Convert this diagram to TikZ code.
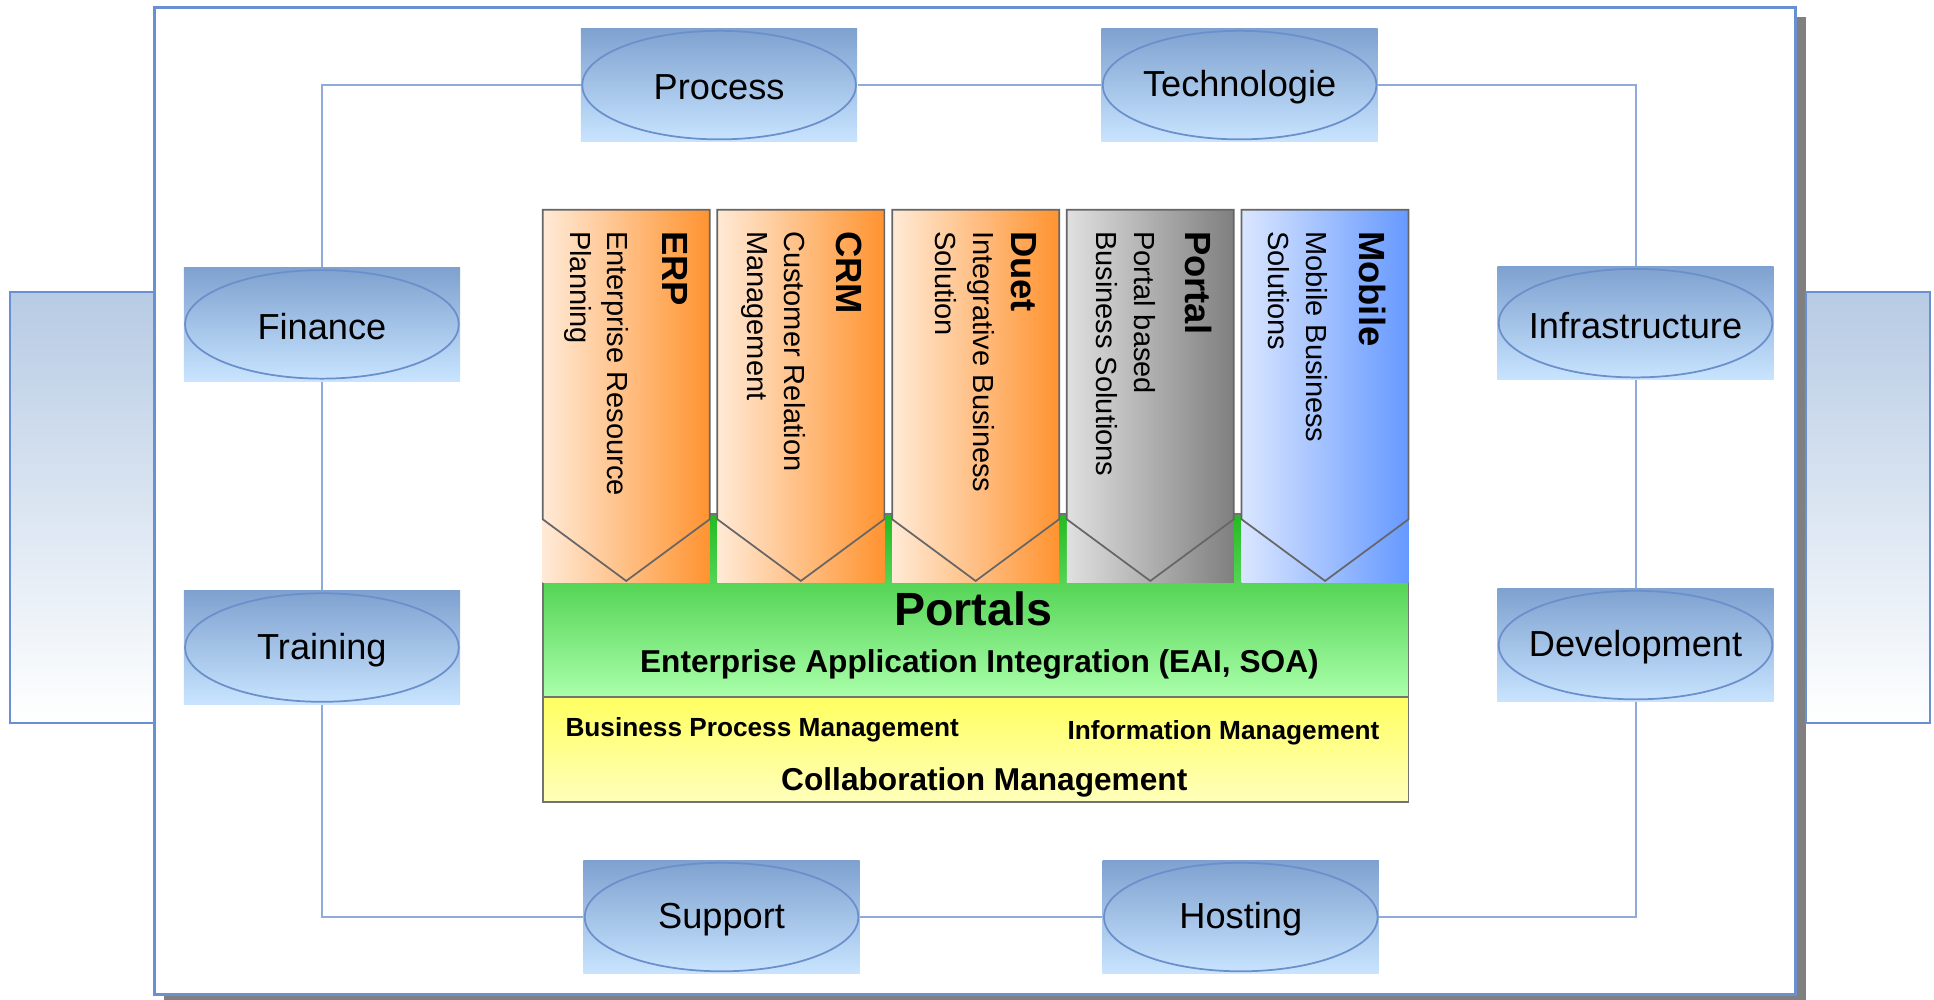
\documentclass[tikz,border=0pt]{standalone}
\usepackage{fontspec}
\setmainfont{Liberation Sans}
\usetikzlibrary{positioning,shapes.geometric}

\definecolor{topicdark}{HTML}{7EA1CF}
\definecolor{topiclight}{HTML}{C8E4FF}
\definecolor{topicline}{HTML}{6A8FCB}
\definecolor{linkline}{HTML}{8EABD9}
\definecolor{framecol}{HTML}{6A90D4}
\definecolor{sidetop}{HTML}{B7CBE4}
\definecolor{peach}{HTML}{FFEAD6}
\definecolor{orangeR}{HTML}{FF9330}
\definecolor{greyL}{HTML}{E0E0E0}
\definecolor{greyR}{HTML}{7F7F7F}
\definecolor{blueL}{HTML}{DAE6FF}
\definecolor{blueR}{HTML}{6699FF}
\definecolor{greenT}{HTML}{22BB22}
\definecolor{greenB}{HTML}{AAFFAA}
\definecolor{yellowT}{HTML}{FFFF60}
\definecolor{yellowB}{HTML}{FFFFBB}

\newcommand\topicfont{\fontsize{16.7}{20}\selectfont}
\newcommand\headfont{\fontsize{16.8}{20}\selectfont\bfseries}
\newcommand\bodyfont{\fontsize{13.4}{17.3}\selectfont}

\newcommand\topic[3]{%
\node[topicbg] (#1bg) at (#2) {};
\node[topic,label={[topictext]center:#3}] (#1) at (#2) {};
}
\newcommand\pillar[7]{%
\shade[left color=#3, right color=#4] (#2,\colTop) rectangle ++(\colW,\colH);
\draw[pillarline] (#2,\colTop) -- ++(\colW,0) -- ++(0,\colSh) -- ++(-\colW/2,\colTip) -- ++(-\colW/2,-\colTip) -- cycle;
\node[colhead] (#1) at (#2+117.6,187) {#5};
\node[colbody] (#1txt) at (#2+#7,187) {#6};
}

\begin{document}
\begin{tikzpicture}[x=0.02cm,y=-0.02cm,
	topicbg/.style={rectangle,inner sep=0,minimum width=4.48cm,minimum height=1.84cm,top color=topicdark,bottom color=topiclight},
	topic/.style={ellipse,draw=topicline,line width=0.8pt,inner sep=0,minimum width=4.44cm,minimum height=1.76cm},
	topictext/.style={font=\topicfont,inner sep=0,yshift=-1pt},
	link/.style={draw=linkline,line width=0.9pt},
	pillarline/.style={draw=black!60,line width=0.8pt},
	colhead/.style={rotate=-90,anchor=north west,inner sep=0,font=\headfont},
	colbody/.style={rotate=-90,anchor=north west,inner sep=0,align=left,font=\bodyfont},
	boxline/.style={draw=black!55,line width=0.8pt}]
	\useasboundingbox (0,0) rectangle (1568,810);

	%% frame and side panels
	\fill[black!50] (133,14) rectangle (1464,816);
	\shade[top color=sidetop,bottom color=white,draw=framecol,line width=1pt] (8,237) rectangle (125,586);
	\shade[top color=sidetop,bottom color=white,draw=framecol,line width=1pt] (1464,237) rectangle (1565,586);
	\draw[framecol,line width=1.4pt,fill=white] (125,6) rectangle (1456,806);

	% the ring of topics
	\topic{proc}{583,69}{Process}
	\topic{tech}{1005,69}{Technologie}
	\topic{fin}{261,263}{Finance}
	\topic{infra}{1326,262}{Infrastructure}
	\topic{train}{261,525}{Training}
	\topic{dev}{1326,523}{Development}
	\topic{sup}{585,743.5}{Support}
	\topic{host}{1006,743.5}{Hosting}

	\draw[link] (procbg.west) -| (finbg.north);
	\draw[link] (finbg.south) -- (trainbg.north);
	\draw[link] (trainbg.south) |- (supbg.west);
	\draw[link] (supbg.east) -- (hostbg.west);
	\draw[link] (hostbg.east) -| (devbg.south);
	\draw[link] (devbg.north) -- (infrabg.south);
	\draw[link] (infrabg.north) |- (techbg.east);
	\draw[link] (procbg.east) -- (techbg.west);

	% integration layers
	\shade[top color=greenT,bottom color=greenB,boxline] (440,417) rectangle (1142,565);
	\shade[top color=yellowT,bottom color=yellowB,boxline] (440,565) rectangle (1142,650);
	\node[font=\fontsize{21.5}{24}\selectfont\bfseries] (portals) at (789,494) {Portals};
	\node[font=\fontsize{14.6}{17}\selectfont\bfseries] (eai) at (794,539) {Enterprise Application Integration (EAI, SOA)};
	\node[font=\fontsize{12.1}{14}\selectfont\bfseries] (bpm) at (618,592) {Business Process Management};
	\node[font=\fontsize{12.1}{14}\selectfont\bfseries] (info) at (992,594) {Information Management};
	\node[font=\fontsize{14.6}{17}\selectfont\bfseries] (collab) at (798,634) {Collaboration Management};

	%% solution columns
	\def\colTop{170}
	\def\colW{135.4}
	\def\colH{302}
	\def\colSh{251}
	\def\colTip{50}

	\pillar{erp}{440}{peach}{orangeR}{ERP}{Enterprise Resource\\Planning}{70}
	\pillar{crm}{581.6}{peach}{orangeR}{CRM}{Customer Relation\\Management}{72}
	\pillar{duet}{723.3}{peach}{orangeR}{Duet}{Integrative Business\\Solution}{83}
	\pillar{portal}{864.9}{greyL}{greyR}{Portal}{Portal based\\Business Solutions}{72}
	\pillar{mobile}{1006.6}{blueL}{blueR}{Mobile}{Mobile Business\\Solutions}{70}
\end{tikzpicture}
\end{document}
